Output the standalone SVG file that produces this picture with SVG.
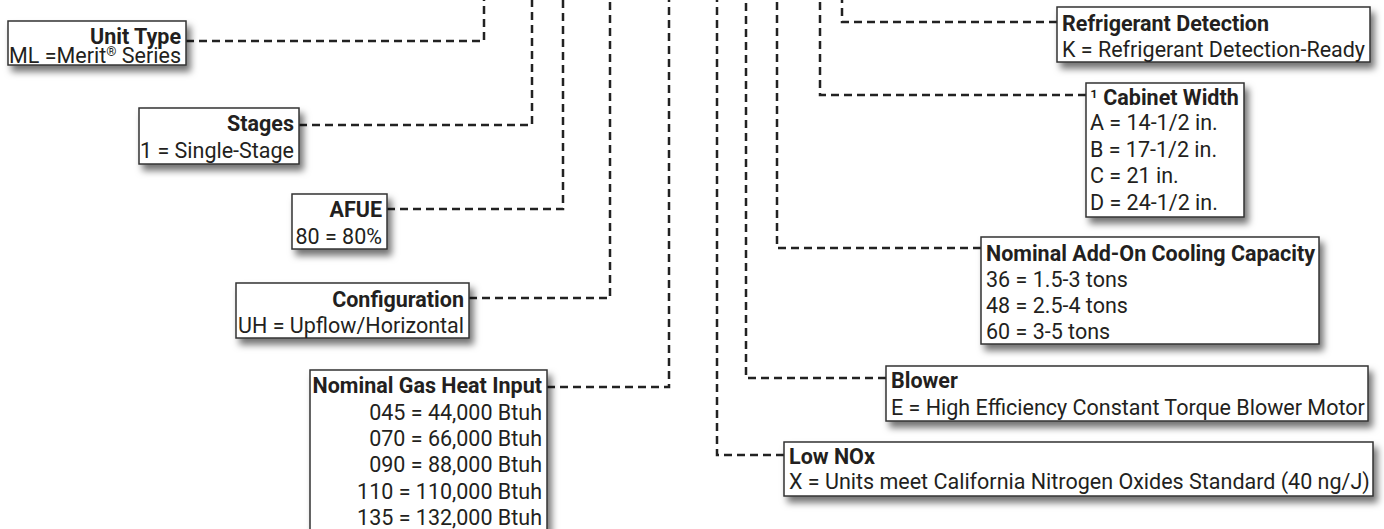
<svg xmlns="http://www.w3.org/2000/svg" width="1384" height="529" viewBox="0 0 1384 529">
<defs>
<filter id="sh" x="-10%" y="-20%" width="130%" height="160%">
<feDropShadow dx="4" dy="6" stdDeviation="3.5" flood-color="#000" flood-opacity="0.55"/>
</filter>
<style>
.box{fill:#fff;stroke:#333;stroke-width:1.5;filter:url(#sh)}
.c{fill:none;stroke:#222;stroke-width:2.5;stroke-dasharray:8 5}
text{font-family:Roboto,"Liberation Sans",sans-serif;font-size:21.5px;fill:#231f20}
.b{font-weight:bold}
.r{text-anchor:end}
</style>
</defs>
<rect width="1384" height="529" fill="#fff"/>
<g id="connectors">
<path class="c" d="M186,41H484V0"/>
<path class="c" d="M299,125H532V0"/>
<path class="c" d="M387,209H563V0"/>
<path class="c" d="M469,298H610V0"/>
<path class="c" d="M547,387H669V0"/>
<path class="c" d="M1057,22H842V0"/>
<path class="c" d="M1086,95H820V0"/>
<path class="c" d="M981,248H777V0"/>
<path class="c" d="M886,378H746V0"/>
<path class="c" d="M784,455H717V0"/>
</g>
<g id="unit-type">
<rect class="box" x="8" y="21" width="178" height="44"/>
<text class="b r" x="181" y="44">Unit Type</text>
<text class="r" x="181" y="63">ML =Merit<tspan font-size="13" dy="-7">®</tspan><tspan dy="7"> Series</tspan></text>
</g>
<g id="stages">
<rect class="box" x="139" y="108" width="160" height="56"/>
<text class="b r" x="294" y="131">Stages</text>
<text class="r" x="294" y="158">1 = Single-Stage</text>
</g>
<g id="afue">
<rect class="box" x="292" y="194" width="95" height="55"/>
<text class="b r" x="382" y="217">AFUE</text>
<text class="r" x="382" y="244">80 = 80%</text>
</g>
<g id="configuration">
<rect class="box" x="236" y="283" width="233" height="55"/>
<text class="b r" x="464" y="307">Configuration</text>
<text class="r" x="464" y="333">UH = Upflow/Horizontal</text>
</g>
<g id="gas-heat-input">
<rect class="box" x="310" y="370" width="237" height="175"/>
<text class="b r" x="542" y="393">Nominal Gas Heat Input</text>
<text class="r" x="542" y="420">045 = 44,000 Btuh</text>
<text class="r" x="542" y="446">070 = 66,000 Btuh</text>
<text class="r" x="542" y="472">090 = 88,000 Btuh</text>
<text class="r" x="542" y="499">110 = 110,000 Btuh</text>
<text class="r" x="542" y="525">135 = 132,000 Btuh</text>
</g>
<g id="refrigerant-detection">
<rect class="box" x="1057" y="7" width="313" height="55"/>
<text class="b" x="1062" y="31">Refrigerant Detection</text>
<text x="1062" y="57">K = Refrigerant Detection-Ready</text>
</g>
<g id="cabinet-width">
<rect class="box" x="1086" y="83" width="158" height="134"/>
<text x="1090" y="105">¹<tspan class="b"> Cabinet Width</tspan></text>
<text x="1090" y="130">A = 14-1/2 in.</text>
<text x="1090" y="157">B = 17-1/2 in.</text>
<text x="1090" y="183">C = 21 in.</text>
<text x="1090" y="210">D = 24-1/2 in.</text>
</g>
<g id="cooling-capacity">
<rect class="box" x="981" y="237" width="338" height="107"/>
<text class="b" x="986" y="261">Nominal Add-On Cooling Capacity</text>
<text x="986" y="287">36 = 1.5-3 tons</text>
<text x="986" y="313">48 = 2.5-4 tons</text>
<text x="986" y="339">60 = 3-5 tons</text>
</g>
<g id="blower">
<rect class="box" x="886" y="366" width="482" height="55"/>
<text class="b" x="891" y="388">Blower</text>
<text x="891" y="415">E = High Efficiency Constant Torque Blower Motor</text>
</g>
<g id="low-nox">
<rect class="box" x="784" y="442" width="589" height="54"/>
<text class="b" x="789" y="464">Low NOx</text>
<text x="789" y="489">X = Units meet California Nitrogen Oxides Standard (40 ng/J)</text>
</g>
</svg>
